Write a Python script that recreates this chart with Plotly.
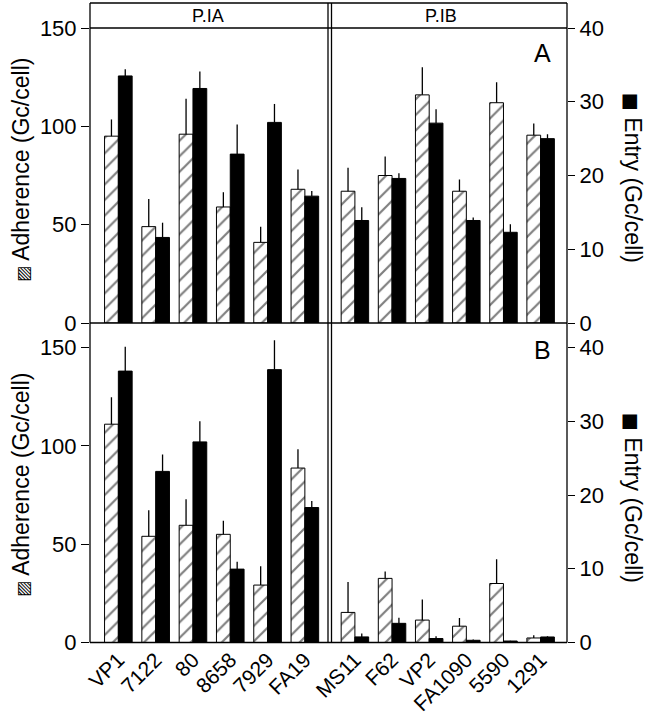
import plotly.graph_objects as go

# ---------------- data ----------------
left_strains = ["VP1", "7122", "80", "8658", "7929", "FA19"]
right_strains = ["MS11", "F62", "VP2", "FA1090", "5590", "1291"]

adh_A_left = [95, 49, 96, 59, 41, 68]
adh_A_left_err = [8.5, 14, 18, 7.5, 8, 10]
entry_A_left = [33.5, 11.6, 31.8, 22.9, 27.2, 17.2]
entry_A_left_err = [0.9, 2.0, 2.3, 4.0, 2.5, 0.7]
adh_A_right = [67, 75, 116, 67, 112, 95.5]
adh_A_right_err = [12, 9.6, 14, 6, 10.4, 6]
entry_A_right = [13.9, 19.6, 27.1, 13.9, 12.3, 25.0]
entry_A_right_err = [1.8, 0.7, 1.9, 0.4, 1.1, 0.6]

adh_B_left = [111, 54, 59.6, 55, 29.2, 88.7]
adh_B_left_err = [13.7, 13.2, 13.2, 6.9, 9.6, 9.5]
entry_B_left = [36.8, 23.2, 27.2, 9.95, 37.0, 18.3]
entry_B_left_err = [3.3, 2.3, 2.8, 1.0, 4.0, 0.9]
adh_B_right = [15.3, 32.6, 11.4, 8.3, 30.0, 2.3]
adh_B_right_err = [15.5, 3.5, 10.5, 4.2, 12.3, 1.4]
entry_B_right = [0.76, 2.6, 0.54, 0.3, 0.2, 0.75]
entry_B_right_err = [0.45, 0.75, 0.3, 0.1, 0.05, 0.1]

adh_ticks = [0, 50, 100, 150]
entry_ticks = [0, 10, 20, 30, 40]

# ---------------- layout helpers ----------------
W, H = 647, 719
def px(x):
    return x / W
def py(y):
    return 1 - y / H

FONT = "Liberation Sans, Arial, Helvetica, sans-serif"
XL, XM1, XM2, XR = 90, 328, 331.5, 567
YT, YH, YA0, YB0 = 3, 28, 323, 642.5

domL = [px(XL), px(XM1)]
domR = [px(XM2), px(XR)]
domA = [py(YA0), py(YH)]
domB = [py(YB0), py(YA0)]

B_adh_top = 150 * (YB0 - YA0) / (YB0 - 347.5)
B_ent_top = 40 * (YB0 - YA0) / (YB0 - 347.5)

BW = 0.37
hatch = dict(color="white", line=dict(color="black", width=1),
             pattern=dict(shape="/", fgcolor="black", bgcolor="white", size=11, solidity=0.2))
solid = dict(color="black", line=dict(color="black", width=1))

def err(a):
    return dict(type="data", symmetric=False, array=a, arrayminus=[0] * len(a),
                color="black", thickness=1.3, width=0)

fig = go.Figure()

def add_pair(cats, adh, adh_e, ent, ent_e, xa, ya, yb):
    fig.add_trace(go.Bar(x=cats, y=adh, error_y=err(adh_e), marker=hatch,
                         width=BW, offset=-BW, xaxis=xa, yaxis=ya, showlegend=False))
    fig.add_trace(go.Bar(x=cats, y=ent, error_y=err(ent_e), marker=solid,
                         width=BW, offset=0, xaxis=xa, yaxis=yb, showlegend=False))

add_pair(left_strains, adh_A_left, adh_A_left_err, entry_A_left, entry_A_left_err, "x", "y", "y2")
add_pair(right_strains, adh_A_right, adh_A_right_err, entry_A_right, entry_A_right_err, "x2", "y3", "y4")
add_pair(left_strains, adh_B_left, adh_B_left_err, entry_B_left, entry_B_left_err, "x3", "y5", "y6")
add_pair(right_strains, adh_B_right, adh_B_right_err, entry_B_right, entry_B_right_err, "x4", "y7", "y8")

xbase = dict(showline=False, showgrid=False, zeroline=False, ticks="", fixedrange=True,
             automargin=False)
rngL = [-0.76, 5.62]
rngR = [-0.63, 5.71]
tickfont_x = dict(family=FONT, size=21, color="black")
tickfont_y = dict(family=FONT, size=22, color="black")

yvis = dict(showline=False, showgrid=False, zeroline=False, ticks="outside", automargin=False,
            ticklen=8, tickwidth=1.2, tickcolor="black", tickfont=tickfont_y)
yhid = dict(visible=False, showgrid=False, zeroline=False, automargin=False)

fig.update_layout(
    width=W, height=H,
    margin=dict(l=0, r=0, t=0, b=0, pad=0, autoexpand=False),
    paper_bgcolor="white", plot_bgcolor="rgba(0,0,0,0)",
    barmode="overlay",
    xaxis=dict(xbase, domain=domL, range=rngL, anchor="y", showticklabels=False),
    xaxis2=dict(xbase, domain=domR, range=rngR, anchor="y3", showticklabels=False),
    xaxis3=dict(xbase, domain=domL, range=rngL, anchor="y5", showticklabels=True,
                tickangle=-45, tickfont=tickfont_x),
    xaxis4=dict(xbase, domain=domR, range=rngR, anchor="y7", showticklabels=True,
                tickangle=-45, tickfont=tickfont_x),
    yaxis=dict(yvis, domain=domA, range=[0, 150], anchor="x", side="left", tickvals=adh_ticks),
    yaxis2=dict(yhid, domain=domA, range=[0, 40], anchor="x", overlaying="y"),
    yaxis3=dict(yhid, domain=domA, range=[0, 150], anchor="x2"),
    yaxis4=dict(yvis, domain=domA, range=[0, 40], anchor="x2", overlaying="y3", side="right",
                tickvals=entry_ticks, ticklen=7),
    yaxis5=dict(yvis, domain=domB, range=[0, B_adh_top], anchor="x3", side="left", tickvals=adh_ticks),
    yaxis6=dict(yhid, domain=domB, range=[0, B_ent_top], anchor="x3", overlaying="y5"),
    yaxis7=dict(yhid, domain=domB, range=[0, B_adh_top], anchor="x4"),
    yaxis8=dict(yvis, domain=domB, range=[0, B_ent_top], anchor="x4", overlaying="y7", side="right",
                tickvals=entry_ticks, ticklen=7),
)

# frame lines
LW = 1.3
def line(x0, y0, x1, y1):
    fig.add_shape(type="line", xref="paper", yref="paper",
                  x0=px(x0), y0=py(y0), x1=px(x1), y1=py(y1),
                  line=dict(color="black", width=LW), layer="above")

line(XL, YT, XR, YT)
line(XL, YT, XL, YB0)
line(XR, YT, XR, YB0)
line(XL, YB0, XR, YB0)
line(XL, YH, XR, YH)
line(XL, YA0, XR, YA0)
line(XM1, YT, XM1, YB0)
line(XM2, YT, XM2, YB0)

def ann(text, x, y, size, angle=0):
    fig.add_annotation(text=text, x=px(x), y=py(y), xref="paper", yref="paper",
                       showarrow=False, textangle=angle,
                       font=dict(family=FONT, size=size, color="black"),
                       xanchor="center", yanchor="middle")

ann("P.IA", 208, 16, 18)
ann("P.IB", 441, 16, 18)
ann("A", 542, 53, 25)
ann("B", 542, 350, 25)

adh_title = "<span style='font-size:17px;font-family:DejaVu Sans'>▨</span> Adherence (Gc/cell)"
ent_title = "<span style='font-size:19px;font-family:DejaVu Sans'>■</span> Entry (Gc/cell)"
ann(adh_title, 21, 170, 23, -90)
ann(adh_title, 21, 485, 23, -90)
ann(ent_title, 633, 178, 23, 90)
ann(ent_title, 633, 498, 23, 90)

fig.write_html("out.html", config={"displayModeBar": False},
               post_script="document.body.style.margin='0';document.body.style.padding='0';")
